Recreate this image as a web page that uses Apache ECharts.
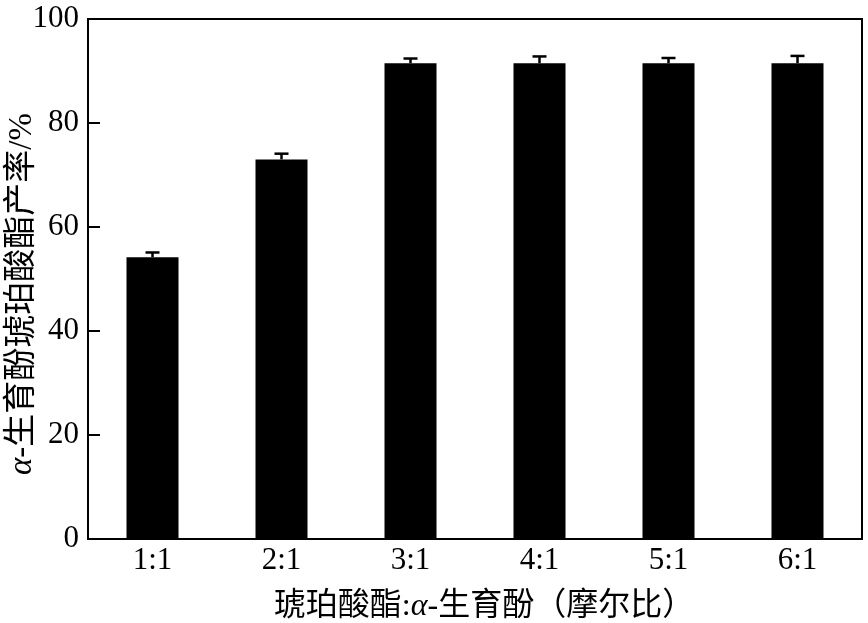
<!DOCTYPE html>
<html>
<head>
<meta charset="utf-8">
<script src="https://cdn.jsdelivr.net/npm/echarts@6/dist/echarts.min.js"></script>
<style>
  html, body { margin: 0; padding: 0; background: #fff; }
  #chart { width: 868px; height: 623px; }
</style>
</head>
<body>
<div id="chart"></div>
<script>
// 摩尔比类别
const categories = ['1:1', '2:1', '3:1', '4:1', '5:1', '6:1'];
// 产率 (%)
const yieldValues = [54.2, 73.0, 91.5, 91.5, 91.5, 91.5];
// 误差 (只画上半)
const yieldErrors = [0.9, 1.1, 0.9, 1.3, 1.0, 1.4];
const yTicks = [0, 20, 40, 60, 80, 100];

const fontFamily = '"Liberation Serif", "Noto Sans CJK SC", serif';

const myChart = echarts.init(document.getElementById('chart'));

const option = {
  animation: false,
  grid: {
    left: 88,
    right: 6,
    top: 19,
    bottom: 84,
    outerBoundsMode: 'none',
    show: true,
    borderColor: '#000',
    borderWidth: 2
  },
  xAxis: {
    type: 'category',
    data: categories,
    name: '琥珀酸酯:{i|α}-生育酚（摩尔比）',
    nameLocation: 'middle',
    nameGap: 52,
    nameMoveOverlap: false,
    nameTextStyle: {
      color: '#000',
      fontSize: 32,
      fontFamily: fontFamily,
      padding: [0, 0, 0, 18],
      rich: {
        i: {fontStyle: 'italic', fontSize: 32, fontFamily: fontFamily, color: '#000'}
      }
    },
    axisLine: {show: true, lineStyle: {color: '#000', width: 2}},
    axisTick: {show: false},
    axisLabel: {color: '#000', fontSize: 31, fontFamily: fontFamily, margin: 6}
  },
  yAxis: {
    type: 'value',
    min: yTicks[0],
    max: yTicks[yTicks.length - 1],
    interval: 20,
    name: '{i|α}-生育酚琥珀酸酯产率/%',
    nameLocation: 'middle',
    nameGap: 49,
    nameMoveOverlap: false,
    nameTextStyle: {
      color: '#000',
      fontSize: 33,
      fontFamily: fontFamily,
      padding: [0, 30, 0, 0],
      rich: {
        i: {fontStyle: 'italic', fontSize: 33, fontFamily: fontFamily, color: '#000'}
      }
    },
    splitLine: {show: false},
    axisLine: {show: true, lineStyle: {color: '#000', width: 2}},
    axisTick: {show: true, inside: true, length: 12, lineStyle: {color: '#000', width: 2}},
    axisLabel: {color: '#000', fontSize: 31, fontFamily: fontFamily, margin: 9}
  },
  series: [
    {
      type: 'bar',
      data: yieldValues,
      barWidth: 52,
      itemStyle: {color: '#000'}
    },
    {
      // 误差线
      type: 'custom',
      data: yieldValues.map((v, i) => [i, v, v + yieldErrors[i]]),
      z: 10,
      renderItem: (params, api) => {
        const base = api.coord([api.value(0), api.value(1)]);
        const top = api.coord([api.value(0), api.value(2)]);
        const half = 7;
        const style = {stroke: '#000', lineWidth: 2.5};
        return {
          type: 'group',
          children: [
            {type: 'line', shape: {x1: base[0], y1: base[1], x2: top[0], y2: top[1]}, style: style},
            {type: 'line', shape: {x1: top[0] - half, y1: top[1], x2: top[0] + half, y2: top[1]}, style: style}
          ]
        };
      }
    }
  ]
};

myChart.setOption(option);
</script>
</body>
</html>
